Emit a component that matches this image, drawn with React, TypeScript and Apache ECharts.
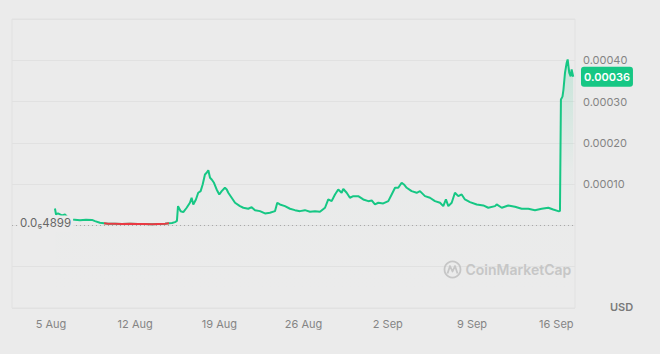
import React, { useEffect, useRef } from 'react';
import * as echarts from 'echarts';

// Days since 5 Aug 2024 00:00
const dayOffsets = [
  0.33, 0.42, 0.58, 0.91, 1.16, 1.41, 1.75, 2.41, 2.91, 3.41,
  3.66, 4.07, 4.41, 4.74, 5.32, 5.9, 6.57, 7.23, 7.81, 8.4,
  8.9, 9.48, 9.81, 10.06, 10.31, 10.47, 10.56, 10.78, 11.0, 11.28,
  11.55, 11.69, 11.83, 12.05, 12.24, 12.44, 12.61, 12.8, 12.94, 13.08,
  13.22, 13.36, 13.55, 13.77, 13.99, 14.19, 14.46, 14.61, 14.74, 15.02,
  15.3, 15.71, 15.99, 16.4, 16.68, 16.96, 17.37, 17.79, 18.2, 18.62,
  18.81, 19.03, 19.45, 19.87, 20.28, 20.7, 21.11, 21.53, 21.95, 22.36,
  22.78, 23.05, 23.33, 23.61, 23.88, 24.16, 24.3, 24.58, 24.85, 25.13,
  25.54, 25.96, 26.38, 26.66, 26.93, 27.21, 27.62, 28.04, 28.32, 28.6,
  28.87, 29.15, 29.34, 29.57, 29.98, 30.4, 30.67, 31.09, 31.5, 31.92,
  32.34, 32.61, 32.83, 33.03, 33.31, 33.58, 33.86, 34.14, 34.41, 34.83,
  35.39, 35.94, 36.35, 36.91, 37.05, 37.47, 38.01, 38.57, 39.13, 39.68,
  40.23, 40.79, 41.34, 41.75, 42.17, 42.31, 42.39, 42.52, 42.6, 42.73,
  42.87, 42.95, 43.08, 43.2, 43.28, 43.41,
];

// Price in micro-USD (1e-6 USD)
const pricesMicroUSD = [
  41, 26.6, 29, 24.2, 26.6, 18.6, 14.5, 12.8, 13.8, 13.3,
  10.4, 6.5, 5.2, 3.9, 4.1, 3.6, 3.9, 3.4, 3.6, 3.1,
  3.6, 3.9, 5.2, 6.0, 8.0, 10.9, 46.7, 34.4, 32.2, 42.8,
  54.9, 67.0, 50.8, 62.9, 79.1, 83.0, 99.2, 123.4, 127.5, 133.8,
  115.4, 111.3, 103.3, 87.1, 75.0, 83.0, 91.2, 87.1, 79.1, 67.0,
  54.9, 46.7, 42.8, 40.4, 44.3, 37.0, 34.6, 29.0, 30.7, 34.6,
  54.9, 50.8, 46.7, 40.4, 37.0, 34.6, 37.0, 33.2, 34.6, 33.2,
  42.8, 62.9, 58.8, 75.0, 87.1, 79.1, 88.3, 79.1, 67.0, 70.9,
  70.9, 62.9, 58.8, 60.5, 50.8, 54.9, 53.2, 58.8, 75.0, 91.2,
  91.2, 103.3, 99.2, 91.2, 83.0, 79.1, 83.0, 70.9, 67.0, 58.8,
  54.9, 46.7, 62.9, 46.7, 54.9, 79.1, 70.9, 75.0, 62.9, 56.4,
  50.8, 48.4, 42.8, 46.7, 50.8, 42.8, 48.4, 45.3, 40.4, 40.4,
  37.0, 40.4, 42.8, 38.7, 34.6, 35.1, 305, 312, 329, 370,
  394, 402, 370, 361, 378, 360,
];

const xTickDays = [0, 7, 14, 21, 28, 35, 42];
const xTickLabels = ['5 Aug', '12 Aug', '19 Aug', '26 Aug', '2 Sep', '9 Sep', '16 Sep'];

const BASELINE = 0.000004899;
const BASELINE_LABEL = '0.0₅4899';
const CURRENCY = 'USD';
const WATERMARK = 'CoinMarketCap';

const X_MIN = -3.24;
const X_MAX = 43.56;
const Y_MIN = -0.0002;
const Y_MAX = 0.0005;
const Y_STEP = 0.0001;

const BG = '#ebebeb';
const GRID = '#e1e1e1';
const GREEN = '#16c784';
const RED = '#ea3943';
const LABEL = '#848484';
const FONT = 'Inter, "Noto Sans", sans-serif';

export default function App() {
  const ref = useRef<HTMLDivElement>(null);

  useEffect(() => {
    document.body.style.margin = '0';
    document.body.style.background = BG;
    const chart = echarts.init(ref.current as HTMLDivElement, null, { renderer: 'svg' });
    const data = dayOffsets.map((d, i) => [d, pricesMicroUSD[i] / 1e6]);
    const last = pricesMicroUSD[pricesMicroUSD.length - 1] / 1e6;

    // red segment: points below the baseline, plus their immediate neighbours
    const below = data.map((p) => p[1] < BASELINE);
    const redData = data.map((p, i) =>
      below[i] || (i > 0 && below[i - 1]) || (i < data.length - 1 && below[i + 1]) ? p : [p[0], null]
    );

    chart.setOption({
      animation: false,
      backgroundColor: BG,
      textStyle: { fontFamily: FONT },
      grid: {
        left: 12, right: 85, top: 19, bottom: 46,
        show: true, borderColor: GRID, borderWidth: 1,
      },
      xAxis: {
        type: 'value',
        min: X_MIN,
        max: X_MAX,
        axisLine: { show: false },
        axisTick: { show: false, customValues: xTickDays },
        splitLine: { show: false },
        axisLabel: {
          customValues: xTickDays,
          formatter: (v: number) => {
            const i = xTickDays.indexOf(Math.round(v));
            return i >= 0 ? xTickLabels[i] : '';
          },
          color: LABEL,
          fontSize: 11,
          margin: 10,
          fontFamily: FONT,
        },
      },
      yAxis: {
        type: 'value',
        position: 'right',
        min: Y_MIN,
        max: Y_MAX,
        interval: Y_STEP,
        axisLine: { show: false },
        axisTick: { show: false },
        splitLine: { lineStyle: { color: GRID, width: 1 } },
        axisLabel: {
          formatter: (v: number) => (v > 0.00005 && v < 0.00045 ? v.toFixed(5) : ''),
          color: LABEL,
          fontSize: 11,
          margin: 8,
          fontFamily: FONT,
        },
      },
      series: [
        {
          type: 'line',
          data,
          symbol: 'none',
          showSymbol: false,
          color: GREEN,
          lineStyle: { width: 2, color: GREEN },
          areaStyle: {
            origin: 'start',
            color: new echarts.graphic.LinearGradient(0, 0, 0, 1, [
              { offset: 0, color: 'rgba(22,199,132,0.25)' },
              { offset: 0.45, color: 'rgba(22,199,132,0.02)' },
              { offset: 1, color: 'rgba(235,235,235,0)' },
            ]),
          },
          markLine: {
            symbol: 'none',
            silent: true,
            animation: false,
            data: [
              {
                yAxis: BASELINE,
                lineStyle: { color: '#a9a9a9', type: [1, 3], width: 1 },
                label: { show: false },
              },
            ],
          },
        },
        {
          type: 'line',
          data: redData,
          symbol: 'none',
          showSymbol: false,
          connectNulls: false,
          color: RED,
          lineStyle: { width: 2, color: RED },
          z: 3,
        },
      ],
    });

    const by = chart.convertToPixel({ yAxisIndex: 0 }, BASELINE) as number;
    const ly = chart.convertToPixel({ yAxisIndex: 0 }, last) as number;

    chart.setOption({
      graphic: [
        {
          type: 'text',
          left: 18,
          top: by - 8,
          z: 10,
          style: {
            text: BASELINE_LABEL,
            fill: '#666666',
            font: `11.5px ${FONT}`,
            backgroundColor: BG,
            padding: [2, 2, 2, 2],
          },
        },
        {
          type: 'text',
          x: 581,
          y: ly,
          z: 10,
          style: {
            text: last.toFixed(5),
            fill: '#ffffff',
            font: `600 11px ${FONT}`,
            verticalAlign: 'middle',
            backgroundColor: GREEN,
            padding: [5, 3, 4, 3],
            borderRadius: 3,
          },
        },
        {
          type: 'text',
          left: 610,
          top: 301,
          style: {
            text: CURRENCY,
            fill: '#7a7a7a',
            font: `600 11px ${FONT}`,
          },
        },
        {
          type: 'group',
          left: 442,
          top: 259,
          children: [
            {
              type: 'circle',
              shape: { cx: 9, cy: 9, r: 8 },
              style: { fill: 'none', stroke: '#c6c6c6', lineWidth: 1.8 },
            },
            {
              type: 'polyline',
              shape: { points: [[4, 13], [6.5, 5.5], [9, 11], [11.5, 5.5], [14, 13]] },
              style: { fill: 'none', stroke: '#c6c6c6', lineWidth: 1.8, lineJoin: 'round' },
            },
            {
              type: 'text',
              x: 22,
              y: 9,
              style: {
                text: WATERMARK,
                fill: '#c6c6c6',
                font: `600 14px ${FONT}`,
                verticalAlign: 'middle',
              },
            },
          ],
        },
      ],
    });

    return () => chart.dispose();
  }, []);

  return <div ref={ref} style={{ width: 660, height: 354, background: BG }} />;
}
